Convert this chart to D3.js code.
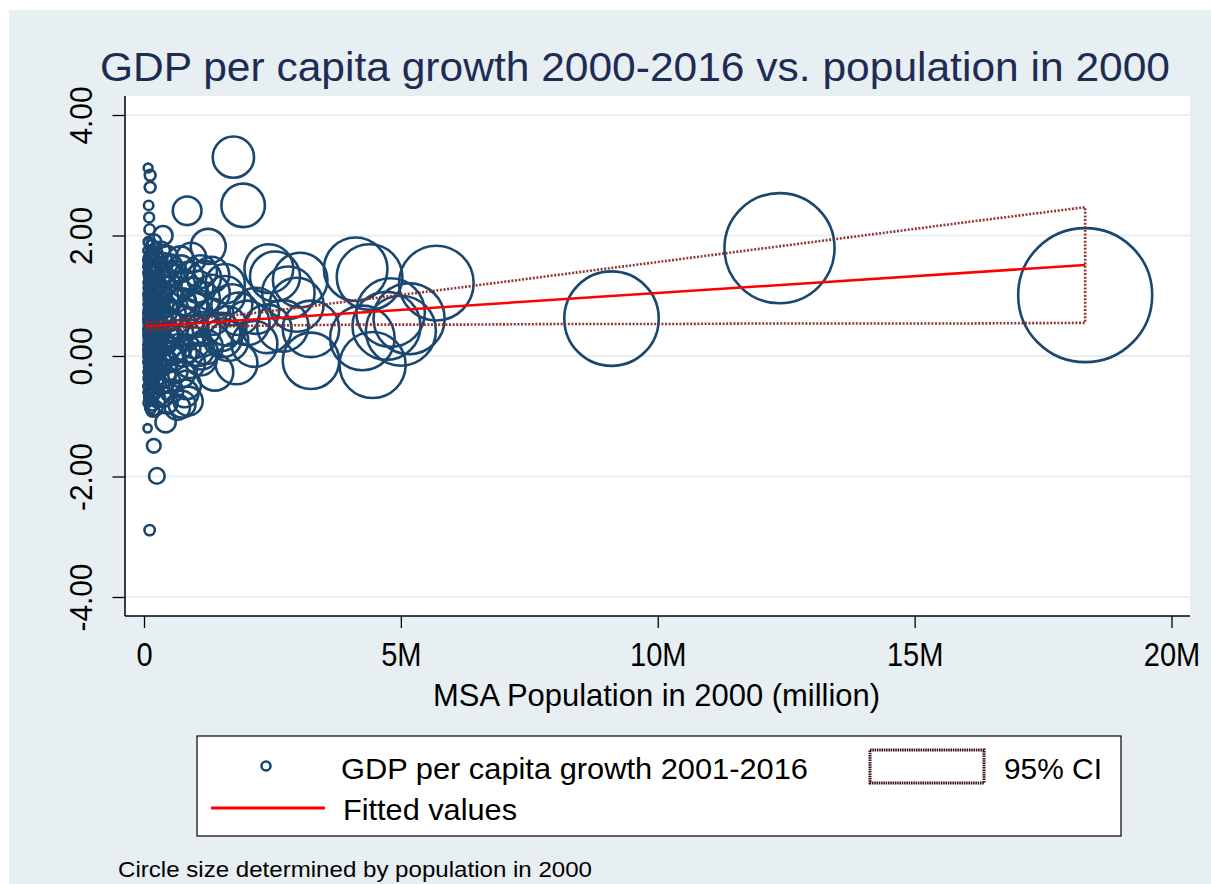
<!DOCTYPE html>
<html><head><meta charset="utf-8">
<script src="https://cdn.jsdelivr.net/npm/d3@7"></script>
<style>body{margin:0;background:#fff}svg{display:block}</style>
</head><body><svg id="chart" width="1211" height="884"></svg>
<script>
// ---------- DATA (population in millions, GDP per capita growth) ----------
const msaTiny = [[0.08,3.12],[0.12,3.0],[0.12,2.8],[0.09,2.5],[0.10,2.3],[0.11,2.1],[0.07,-1.2],[0.11,-2.89],[0.09,1.88],[0.06,1.75],[0.13,1.7],[0.07,1.62],[0.10,1.55],[0.08,1.5],[0.12,1.45],[0.06,1.38],[0.09,1.32],[0.14,1.28],[0.07,1.22],[0.11,1.18],[0.08,1.12],[0.13,1.08],[0.06,1.02],[0.10,0.98],[0.09,0.94],[0.12,0.9],[0.07,0.86],[0.11,0.82],[0.08,0.78],[0.14,0.75],[0.06,0.72],[0.10,0.68],[0.09,0.65],[0.13,0.62],[0.07,0.58],[0.12,0.55],[0.08,0.52],[0.11,0.48],[0.06,0.45],[0.10,0.42],[0.09,0.38],[0.14,0.35],[0.07,0.32],[0.12,0.28],[0.08,0.25],[0.11,0.22],[0.06,0.18],[0.13,0.15],[0.09,0.12],[0.10,0.08],[0.07,0.05],[0.12,0.02],[0.08,-0.02],[0.11,-0.06],[0.06,-0.1],[0.14,-0.14],[0.09,-0.18],[0.10,-0.22],[0.07,-0.27],[0.13,-0.32],[0.08,-0.38],[0.12,-0.44],[0.06,-0.5],[0.11,-0.56],[0.09,-0.62],[0.10,-0.7],[0.07,-0.78],[0.13,-0.86],[0.08,1.9],[0.12,1.65],[0.06,1.48],[0.10,1.35],[0.09,1.15],[0.11,0.88],[0.07,0.7],[0.13,0.6],[0.08,0.4],[0.12,0.3],[0.06,0.1],[0.10,-0.05],[0.09,-0.25],[0.14,-0.42],[0.07,-0.6],[0.11,0.5],[0.08,0.95],[0.12,1.25],[0.06,0.62],[0.13,0.2],[0.10,0.75],[0.09,1.05],[0.07,0.36],[0.11,-0.15],[0.08,0.56],[0.12,0.84],[0.06,1.58],[0.10,0.16],[0.14,0.98],[0.09,-0.35],[0.13,1.4],[0.07,0.0]];
const msaSmall = [[0.19,-1.49],[0.25,-1.99],[0.17,-0.9],[0.16,1.82],[0.22,1.7],[0.18,1.6],[0.27,1.52],[0.15,1.45],[0.21,1.38],[0.24,1.3],[0.17,1.22],[0.29,1.15],[0.20,1.1],[0.16,1.02],[0.23,0.96],[0.26,0.9],[0.18,0.85],[0.28,0.8],[0.15,0.76],[0.21,0.72],[0.19,0.68],[0.25,0.64],[0.17,0.6],[0.22,0.56],[0.30,0.52],[0.16,0.48],[0.24,0.44],[0.20,0.4],[0.27,0.36],[0.18,0.32],[0.15,0.28],[0.23,0.24],[0.29,0.2],[0.19,0.16],[0.21,0.12],[0.26,0.08],[0.17,0.04],[0.24,0.0],[0.16,-0.04],[0.22,-0.08],[0.28,-0.12],[0.20,-0.17],[0.18,-0.22],[0.25,-0.28],[0.15,-0.34],[0.23,-0.4],[0.27,-0.46],[0.19,-0.52],[0.21,-0.58],[0.17,-0.65],[0.26,-0.72],[0.16,-0.8],[0.22,-0.86],[0.20,1.9],[0.24,1.62],[0.18,1.25],[0.29,1.0],[0.15,0.62],[0.25,0.3],[0.21,-0.3],[0.17,0.92],[0.28,0.58],[0.19,0.05],[0.23,1.42],[0.16,-0.6],[0.26,1.18],[0.20,0.7],[0.22,0.35],[0.18,-0.1]];
const msaMid = [[0.42,-1.1],[0.37,2.0],[0.33,1.75],[0.45,1.65],[0.38,1.55],[0.52,1.5],[0.31,1.42],[0.60,1.38],[0.35,1.3],[0.48,1.22],[0.41,1.15],[0.66,1.1],[0.34,1.02],[0.55,0.95],[0.39,0.88],[0.44,0.82],[0.32,0.76],[0.58,0.7],[0.36,0.65],[0.50,0.6],[0.40,0.55],[0.63,0.5],[0.33,0.45],[0.47,0.4],[0.53,0.33],[0.37,0.27],[0.43,0.2],[0.68,0.15],[0.31,0.1],[0.56,0.05],[0.39,-0.02],[0.46,-0.1],[0.35,-0.18],[0.61,-0.25],[0.42,-0.33],[0.49,-0.42],[0.32,-0.5],[0.54,-0.58],[0.38,-0.68],[0.45,-0.78],[0.65,-0.85],[0.36,0.98],[0.51,1.35],[0.34,0.38],[0.57,-0.05]];
const msaUpper = [[0.84,2.41],[0.92,1.63],[0.86,-0.75],[0.72,1.45],[0.78,1.2],[0.95,1.05],[0.75,0.9],[0.81,0.72],[0.88,0.55],[0.70,0.38],[0.98,0.22],[0.76,0.05],[0.90,-0.12],[0.73,-0.3],[0.83,-0.48],[0.79,-0.62],[0.94,0.85],[0.71,1.6],[0.87,1.32],[0.74,-0.8],[0.96,0.42],[0.82,0.12],[0.97,0.8]];
const msaLarge = [[1.04,1.15],[1.05,0.1],[1.10,1.4],[1.10,-0.05],[1.12,0.05],[1.15,0.95],[1.16,0.45],[1.17,1.3],[1.20,0.15],[1.25,1.82],[1.31,1.35],[1.32,1.05],[1.33,0.65],[1.38,-0.27],[1.50,0.4],[1.53,0.3],[1.58,1.2],[1.58,1.0],[1.61,0.5],[1.64,0.25],[1.71,0.85],[1.74,3.3],[1.80,-0.12],[1.84,0.7],[1.93,2.5],[2.01,0.55],[2.15,0.2],[2.18,0.75],[2.40,0.45],[2.43,1.45],[2.55,1.32],[2.70,0.5],[2.81,1.05],[2.97,0.85],[3.04,1.26],[3.25,0.45],[3.25,-0.08],[4.12,1.44],[4.25,0.3],[4.39,1.31],[4.45,-0.15],[4.72,0.5],[4.80,0.72],[5.00,0.42],[5.16,0.62],[5.69,1.21],[9.10,0.62],[12.37,1.79],[18.32,1.01]];

const fitPop = [0.05, 18.32];
const fitValue = [0.49, 1.51];
const ciPop   = [0.05, 0.5, 1, 2, 3, 4, 6, 8, 10, 12, 14, 16, 18.32];
const ciUpper = [0.565, 0.584, 0.615, 0.70, 0.80, 0.91, 1.12, 1.34, 1.56, 1.78, 2.00, 2.22, 2.47];
const ciLower = [0.42, 0.452, 0.476, 0.50, 0.51, 0.52, 0.52, 0.53, 0.53, 0.54, 0.54, 0.54, 0.55];

const xTicks = [0, 5, 10, 15, 20];
const xTickLabels = ["0", "5M", "10M", "15M", "20M"];
const yTicks = [-4, -2, 0, 2, 4];
const yTickLabels = ["-4.00", "-2.00", "0.00", "2.00", "4.00"];

const titleText = "GDP per capita growth 2000-2016 vs. population in 2000";
const xTitle = "MSA Population in 2000 (million)";
const legendScatter = "GDP per capita growth 2001-2016";
const legendFit = "Fitted values";
const legendCI = "95% CI";
const noteText = "Circle size determined by population in 2000";

// ---------- DRAWING ----------
const FONT = '"Liberation Sans", Arial, Helvetica, sans-serif';
const NAVY = "#1A476F", BG = "#E8EFF2", CI_COL = "#8B2B2B";
const W = 1211, H = 884;
const plot = {left: 125, right: 1190, top: 96, bottom: 616};
const svg = d3.select("#chart");

svg.append("rect").attr("x", 0).attr("y", 0).attr("width", W).attr("height", H).attr("fill", "#fff");
svg.append("rect").attr("x", 9).attr("y", 10).attr("width", W - 9).attr("height", H - 10).attr("fill", BG);
svg.append("rect").attr("x", plot.left).attr("y", plot.top)
  .attr("width", plot.right - plot.left).attr("height", plot.bottom - plot.top).attr("fill", "#fff");

const x = d3.scaleLinear().domain([0, 20]).range([144, 1171.5]);
const y = d3.scaleLinear().domain([-4, 4]).range([597, 115]);
const r = d3.scaleSqrt().domain([0, 18.32]).range([0, 67]);

function condense(sel, k) {
  sel.each(function () {
    const w = this.getComputedTextLength();
    d3.select(this).attr("textLength", w * k).attr("lengthAdjust", "spacingAndGlyphs");
  });
}
function fitTo(sel, w) { sel.attr("textLength", w).attr("lengthAdjust", "spacingAndGlyphs"); }

// gridlines
svg.append("g").selectAll("line").data(yTicks).join("line")
  .attr("x1", plot.left).attr("x2", plot.right)
  .attr("y1", d => y(d)).attr("y2", d => y(d))
  .attr("stroke", BG).attr("stroke-width", 2);

// scatter
const allMsa = [].concat(msaTiny, msaSmall, msaMid, msaUpper, msaLarge);
svg.append("g").selectAll("circle").data(allMsa).join("circle")
  .attr("cx", d => x(d[0])).attr("cy", d => y(d[1])).attr("r", d => r(d[0]))
  .attr("fill", "none").attr("stroke", NAVY).attr("stroke-width", 2.6);

// CI band outline
const ciPts = ciPop.map((p, i) => [p, ciUpper[i]]).concat(ciPop.map((p, i) => [p, ciLower[i]]).reverse());
const ln = d3.line().x(d => x(d[0])).y(d => y(d[1]));
svg.append("path").attr("d", ln(ciPts) + "Z").attr("fill", "none")
  .attr("stroke", CI_COL).attr("stroke-opacity", 0.95).attr("stroke-width", 2.6).attr("stroke-dasharray", "2,1.6");

// fitted line
svg.append("path").attr("d", ln(fitPop.map((p, i) => [p, fitValue[i]])))
  .attr("fill", "none").attr("stroke", "#FF0000").attr("stroke-width", 2.6);

// axes
const yAxis = d3.axisLeft(y).tickValues(yTicks).tickFormat((d, i) => yTickLabels[i]).tickSize(12.5).tickSizeOuter(0);
const gy = svg.append("g").attr("transform", `translate(${plot.left},0)`).call(yAxis);
gy.select(".domain").remove();
gy.selectAll(".tick line").attr("stroke", "#000").attr("stroke-width", 1.3);
gy.selectAll(".tick text").attr("transform", "rotate(-90)").attr("x", 0).attr("y", -33).attr("dy", null)
  .attr("text-anchor", "middle").attr("fill", "#000").style("font-family", FONT).style("font-size", "32px")
  .call(condense, 0.93);

const xAxis = d3.axisBottom(x).tickValues(xTicks).tickFormat((d, i) => xTickLabels[i]).tickSize(12).tickSizeOuter(0);
const gx = svg.append("g").attr("transform", `translate(0,${plot.bottom})`).call(xAxis);
gx.select(".domain").remove();
gx.selectAll(".tick line").attr("stroke", "#000").attr("stroke-width", 1.3);
gx.selectAll(".tick text").attr("y", 50).attr("dy", null).attr("fill", "#000")
  .style("font-family", FONT).style("font-size", "33px").call(condense, 0.88);

svg.append("line").attr("x1", plot.left).attr("x2", plot.left).attr("y1", plot.top).attr("y2", plot.bottom)
  .attr("stroke", "#000").attr("stroke-width", 1.5);
svg.append("line").attr("x1", plot.left).attr("x2", plot.right).attr("y1", plot.bottom).attr("y2", plot.bottom)
  .attr("stroke", "#000").attr("stroke-width", 1.5);

// title
svg.append("text").attr("x", 100).attr("y", 81).text(titleText)
  .style("font-family", FONT).style("font-size", "41px").attr("fill", "#1E2C55").call(fitTo, 1070);

// x axis title
svg.append("text").attr("x", 433).attr("y", 706).text(xTitle)
  .style("font-family", FONT).style("font-size", "32px").attr("fill", "#000").call(fitTo, 447);

// legend
const lg = svg.append("g");
lg.append("rect").attr("x", 197).attr("y", 736).attr("width", 924).attr("height", 100)
  .attr("fill", "#fff").attr("stroke", "#000").attr("stroke-width", 1.2);
lg.append("circle").attr("cx", 266).attr("cy", 766).attr("r", 4.5)
  .attr("fill", "none").attr("stroke", NAVY).attr("stroke-width", 2.6);
lg.append("line").attr("x1", 211).attr("x2", 325).attr("y1", 808).attr("y2", 808)
  .attr("stroke", "#FF0000").attr("stroke-width", 2.8);
lg.append("rect").attr("x", 870).attr("y", 750).attr("width", 114).attr("height", 33)
  .attr("fill", "#fff").attr("stroke", "#3a0c0c").attr("stroke-width", 3).attr("stroke-dasharray", "1.5,0.8");
lg.append("text").attr("x", 341).attr("y", 779).text(legendScatter)
  .style("font-family", FONT).style("font-size", "29px").attr("fill", "#000").call(fitTo, 467);
lg.append("text").attr("x", 343).attr("y", 820).text(legendFit)
  .style("font-family", FONT).style("font-size", "29px").attr("fill", "#000").call(fitTo, 174);
lg.append("text").attr("x", 1004).attr("y", 779).text(legendCI)
  .style("font-family", FONT).style("font-size", "29px").attr("fill", "#000").call(fitTo, 98);

// note
svg.append("text").attr("x", 118).attr("y", 877).text(noteText)
  .style("font-family", FONT).style("font-size", "22px").attr("fill", "#000").call(fitTo, 474);
</script></body></html>
